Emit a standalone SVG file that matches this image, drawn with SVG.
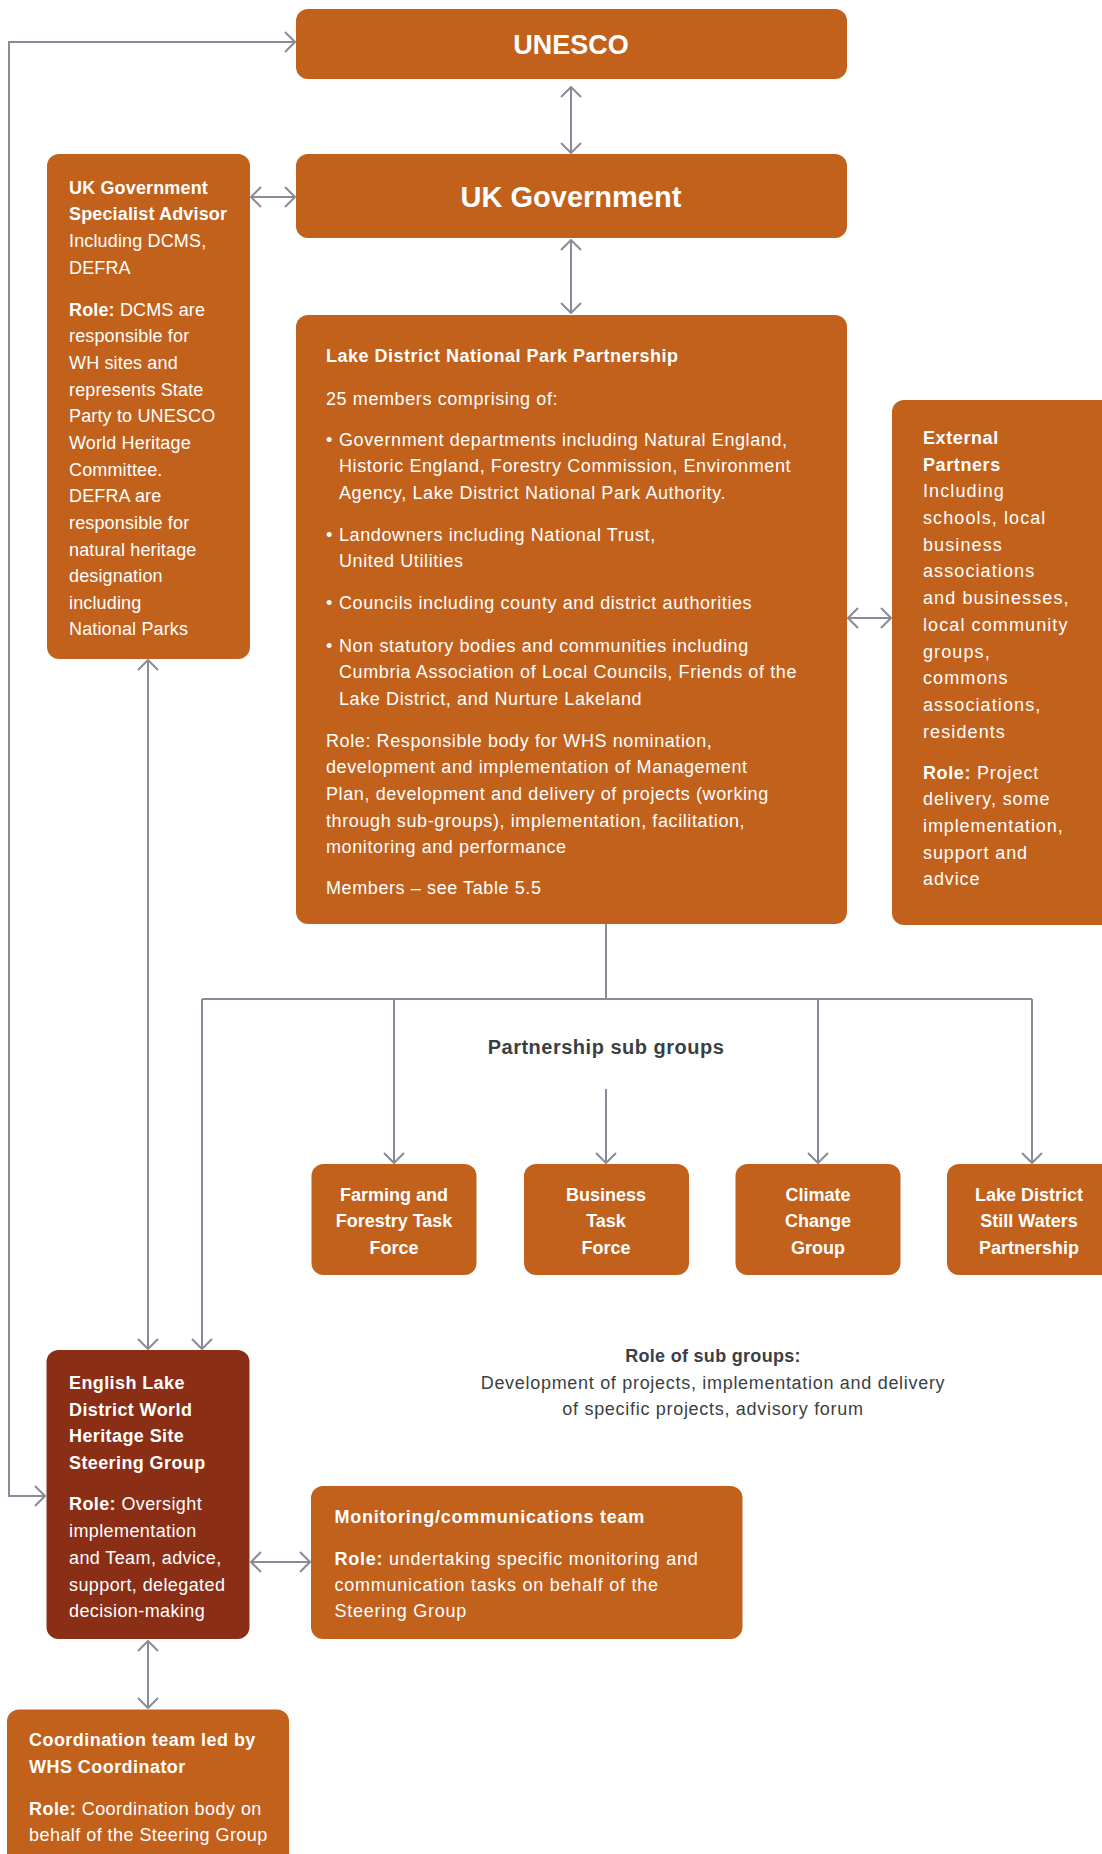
<svg xmlns="http://www.w3.org/2000/svg" width="1102" height="1854" viewBox="0 0 1102 1854">
<defs>
<style>
.box{fill:#C2611C}
.dark{fill:#8B2E16}
.t{font-family:"Liberation Sans",Arial,sans-serif;font-size:18px;fill:#ffffff}
.b{font-weight:bold}
.c{text-anchor:middle}
.g{fill:#3a3f44}
.con{stroke:#8A8A9A;stroke-width:2;fill:none}
</style>
<marker id="ah" viewBox="0 0 12 22" refX="11" refY="11" markerWidth="12" markerHeight="22" markerUnits="userSpaceOnUse" orient="auto-start-reverse">
<path d="M1,1 L11,11 L1,21" fill="none" stroke="#8A8A9A" stroke-width="2"/>
</marker>
</defs>
<rect width="1102" height="1854" fill="#ffffff"/>

<g id="connectors">
<path class="con" d="M295,42 H9 V1496 H45" marker-start="url(#ah)" marker-end="url(#ah)"/>
<path class="con" d="M571,87 V153" marker-start="url(#ah)" marker-end="url(#ah)"/>
<path class="con" d="M571,240 V313" marker-start="url(#ah)" marker-end="url(#ah)"/>
<path class="con" d="M251,197 H295" marker-start="url(#ah)" marker-end="url(#ah)"/>
<path class="con" d="M848,618 H891" marker-start="url(#ah)" marker-end="url(#ah)"/>
<path class="con" d="M148,660 V1349" marker-start="url(#ah)" marker-end="url(#ah)"/>
<path class="con" d="M606,924 V999"/>
<path class="con" d="M202,999 H1032"/>
<path class="con" d="M202,999 V1349" marker-end="url(#ah)"/>
<path class="con" d="M394,999 V1163" marker-end="url(#ah)"/>
<path class="con" d="M818,999 V1163" marker-end="url(#ah)"/>
<path class="con" d="M1032,999 V1163" marker-end="url(#ah)"/>
<path class="con" d="M606,1089 V1163" marker-end="url(#ah)"/>
<path class="con" d="M251,1562 H310" marker-start="url(#ah)" marker-end="url(#ah)"/>
<path class="con" d="M148,1641 V1708" marker-start="url(#ah)" marker-end="url(#ah)"/>
</g>

<g id="unesco">
<rect class="box" x="296" y="9" width="551" height="70" rx="12"/>
<text class="t b c" x="571" y="54" style="font-size:27px">UNESCO</text>
</g>

<g id="uk-government">
<rect class="box" x="296" y="154" width="551" height="84" rx="12"/>
<text class="t b c" x="571" y="207" style="font-size:29px">UK Government</text>
</g>

<g id="specialist-advisor">
<rect class="box" x="47" y="154" width="203" height="505" rx="12"/>
<text class="t" x="69" style="letter-spacing:0.15px">
<tspan class="b" x="69" y="193.5">UK Government</tspan>
<tspan class="b" x="69" y="220">Specialist Advisor</tspan>
<tspan x="69" y="247">Including DCMS,</tspan>
<tspan x="69" y="273.5">DEFRA</tspan>
<tspan class="b" x="69" y="315.5">Role:</tspan><tspan> DCMS are</tspan>
<tspan x="69" y="342">responsible for</tspan>
<tspan x="69" y="369">WH sites and</tspan>
<tspan x="69" y="395.5">represents State</tspan>
<tspan x="69" y="422">Party to UNESCO</tspan>
<tspan x="69" y="449">World Heritage</tspan>
<tspan x="69" y="475.5">Committee.</tspan>
<tspan x="69" y="502">DEFRA are</tspan>
<tspan x="69" y="529">responsible for</tspan>
<tspan x="69" y="555.5">natural heritage</tspan>
<tspan x="69" y="582">designation</tspan>
<tspan x="69" y="609">including</tspan>
<tspan x="69" y="635">National Parks</tspan>
</text>
</g>

<g id="ldnp-partnership">
<rect class="box" x="296" y="315" width="551" height="609" rx="12"/>
<text class="t" style="letter-spacing:0.6px">
<tspan class="b" x="326" y="362" style="letter-spacing:0.5px">Lake District National Park Partnership</tspan>
<tspan x="326" y="405">25 members comprising of:</tspan>
<tspan x="326" y="445.5">•</tspan><tspan x="339" y="445.5">Government departments including Natural England,</tspan>
<tspan x="339" y="472">Historic England, Forestry Commission, Environment</tspan>
<tspan x="339" y="499">Agency, Lake District National Park Authority.</tspan>
<tspan x="326" y="540.5">•</tspan><tspan x="339" y="540.5">Landowners including National Trust,</tspan>
<tspan x="339" y="567">United Utilities</tspan>
<tspan x="326" y="609">•</tspan><tspan x="339" y="609">Councils including county and district authorities</tspan>
<tspan x="326" y="651.5">•</tspan><tspan x="339" y="651.5">Non statutory bodies and communities including</tspan>
<tspan x="339" y="678">Cumbria Association of Local Councils, Friends of the</tspan>
<tspan x="339" y="704.5">Lake District, and Nurture Lakeland</tspan>
<tspan x="326" y="746.5">Role: Responsible body for WHS nomination,</tspan>
<tspan x="326" y="773">development and implementation of Management</tspan>
<tspan x="326" y="800">Plan, development and delivery of projects (working</tspan>
<tspan x="326" y="826.5">through sub-groups), implementation, facilitation,</tspan>
<tspan x="326" y="853">monitoring and performance</tspan>
<tspan x="326" y="894">Members – see Table 5.5</tspan>
</text>
</g>

<g id="external-partners">
<rect class="box" x="892" y="400" width="222" height="525" rx="12"/>
<text class="t" style="letter-spacing:1.1px">
<tspan class="b" x="923" y="443.5" style="letter-spacing:0.6px">External</tspan>
<tspan class="b" x="923" y="471" style="letter-spacing:0.6px">Partners</tspan>
<tspan x="923" y="497">Including</tspan>
<tspan x="923" y="524">schools, local</tspan>
<tspan x="923" y="550.5">business</tspan>
<tspan x="923" y="577">associations</tspan>
<tspan x="923" y="603.5">and businesses,</tspan>
<tspan x="923" y="631">local community</tspan>
<tspan x="923" y="657.5">groups,</tspan>
<tspan x="923" y="684">commons</tspan>
<tspan x="923" y="710.5">associations,</tspan>
<tspan x="923" y="738">residents</tspan>
<tspan class="b" x="923" y="778.5" style="letter-spacing:0.6px">Role:</tspan><tspan style="letter-spacing:0.9px"> Project</tspan>
<tspan x="923" y="805" style="letter-spacing:0.9px">delivery, some</tspan>
<tspan x="923" y="832" style="letter-spacing:0.9px">implementation,</tspan>
<tspan x="923" y="858.5" style="letter-spacing:0.9px">support and</tspan>
<tspan x="923" y="885" style="letter-spacing:0.9px">advice</tspan>
</text>
</g>

<g id="subgroups-label">
<text class="t b c g" x="606" y="1054" style="font-size:20px;letter-spacing:0.5px">Partnership sub groups</text>
</g>

<g id="farming-forestry">
<rect class="box" x="311.5" y="1164" width="165" height="111" rx="12"/>
<text class="t b c"><tspan x="394" y="1200.5">Farming and</tspan><tspan x="394" y="1227">Forestry Task</tspan><tspan x="394" y="1253.5">Force</tspan></text>
</g>

<g id="business-task-force">
<rect class="box" x="524" y="1164" width="165" height="111" rx="12"/>
<text class="t b c"><tspan x="606" y="1200.5">Business</tspan><tspan x="606" y="1227">Task</tspan><tspan x="606" y="1253.5">Force</tspan></text>
</g>

<g id="climate-change">
<rect class="box" x="735.5" y="1164" width="165" height="111" rx="12"/>
<text class="t b c"><tspan x="818" y="1200.5">Climate</tspan><tspan x="818" y="1227">Change</tspan><tspan x="818" y="1253.5">Group</tspan></text>
</g>

<g id="still-waters">
<rect class="box" x="947" y="1164" width="167" height="111" rx="12"/>
<text class="t b c"><tspan x="1029" y="1200.5">Lake District</tspan><tspan x="1029" y="1227">Still Waters</tspan><tspan x="1029" y="1253.5">Partnership</tspan></text>
</g>

<g id="role-of-subgroups">
<text class="t c g" style="letter-spacing:0.7px"><tspan class="b" x="713" y="1362" style="letter-spacing:0.3px">Role of sub groups:</tspan><tspan x="713" y="1389">Development of projects, implementation and delivery</tspan><tspan x="713" y="1415">of specific projects, advisory forum</tspan></text>
</g>

<g id="steering-group">
<rect class="dark" x="46.5" y="1350" width="203" height="289" rx="12"/>
<text class="t" style="letter-spacing:0.4px">
<tspan class="b" x="69" y="1389">English Lake</tspan>
<tspan class="b" x="69" y="1415.5">District World</tspan>
<tspan class="b" x="69" y="1442">Heritage Site</tspan>
<tspan class="b" x="69" y="1469">Steering Group</tspan>
<tspan class="b" x="69" y="1510">Role:</tspan><tspan> Oversight</tspan>
<tspan x="69" y="1537">implementation</tspan>
<tspan x="69" y="1564">and Team, advice,</tspan>
<tspan x="69" y="1591">support, delegated</tspan>
<tspan x="69" y="1617">decision-making</tspan>
</text>
</g>

<g id="monitoring-team">
<rect class="box" x="311" y="1486" width="431.5" height="153" rx="12"/>
<text class="t" style="letter-spacing:0.75px">
<tspan class="b" x="334.5" y="1523">Monitoring/communications team</tspan>
<tspan class="b" x="334.5" y="1564.5">Role:</tspan><tspan> undertaking specific monitoring and</tspan>
<tspan x="334.5" y="1591">communication tasks on behalf of the</tspan>
<tspan x="334.5" y="1617">Steering Group</tspan>
</text>
</g>

<g id="coordination-team">
<rect class="box" x="7" y="1709.5" width="282" height="170" rx="12"/>
<text class="t" style="letter-spacing:0.45px">
<tspan class="b" x="29" y="1746">Coordination team led by</tspan>
<tspan class="b" x="29" y="1772.5">WHS Coordinator</tspan>
<tspan class="b" x="29" y="1814.5">Role:</tspan><tspan> Coordination body on</tspan>
<tspan x="29" y="1840.5">behalf of the Steering Group</tspan>
</text>
</g>
</svg>
